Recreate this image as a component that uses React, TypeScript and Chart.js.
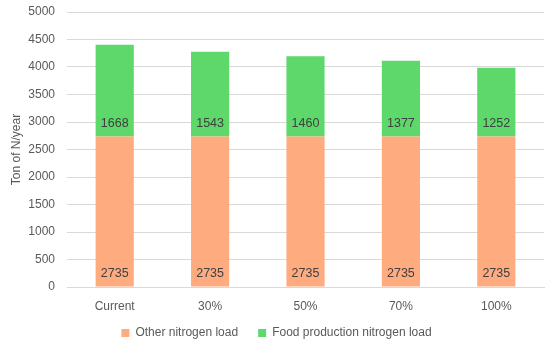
import React, { useEffect, useRef } from "react";
import { Chart, registerables } from "chart.js";

Chart.register(...registerables);

const categories = ["Current", "30%", "50%", "70%", "100%"];
const otherLoad = [2735, 2735, 2735, 2735, 2735];
const foodLoad = [1668, 1543, 1460, 1377, 1252];
const yTicks = [0, 500, 1000, 1500, 2000, 2500, 3000, 3500, 4000, 4500, 5000];

const FONT = "'Liberation Sans', Arial, sans-serif";

const labelPlugin = {
  id: "segLabels",
  afterDatasetsDraw(chart: any) {
    const ctx = chart.ctx;
    ctx.save();
    ctx.font = "12.5px " + FONT;
    ctx.fillStyle = "#404040";
    ctx.textAlign = "center";
    ctx.textBaseline = "middle";
    chart.data.datasets.forEach((ds: any, i: number) => {
      const meta = chart.getDatasetMeta(i);
      meta.data.forEach((el: any, j: number) => {
        ctx.fillText(String(ds.data[j]), el.x, el.base - 13);
      });
    });
    ctx.restore();
  },
};

const legendFit = {
  id: "legendFit",
  afterInit(chart: any) {
    const lg = chart.legend;
    if (!lg) return;
    const orig = lg.fit;
    lg.fit = function () {
      orig.call(this);
      this.height = 26;
    };
  },
  afterLayout(chart: any) {
    const lg = chart.legend;
    if (!lg) return;
    lg.top = 307;
    lg.bottom = 346;
  },
};

export default function App() {
  const ref = useRef<HTMLCanvasElement>(null);
  useEffect(() => {
    const chart = new Chart(ref.current!, {
      type: "bar",
      data: {
        labels: categories,
        datasets: [
          {
            label: "Other nitrogen load",
            data: otherLoad,
            backgroundColor: "#FFAB80",
            barPercentage: 0.4,
            categoryPercentage: 1,
          },
          {
            label: "Food production nitrogen load",
            data: foodLoad,
            backgroundColor: "#5ED76B",
            barPercentage: 0.4,
            categoryPercentage: 1,
          },
        ],
      },
      options: {
        animation: false,
        responsive: false,
        maintainAspectRatio: false,
        layout: { padding: { left: 9, right: 6, top: 12, bottom: 0 } },
        plugins: {
          legend: {
            position: "bottom",
            labels: {
              boxWidth: 8,
              boxHeight: 8,
              color: "#595959",
              font: { family: FONT, size: 12 },
              padding: 20,
            },
          },
          tooltip: { enabled: false },
        },
        scales: {
          x: {
            stacked: true,
            grid: { display: false, drawTicks: false },
            border: { color: "#D9D9D9" },
            afterFit: (s: any) => {
              s.height = 33;
            },
            ticks: {
              color: "#595959",
              font: { family: FONT, size: 12 },
              padding: 12,
            },
          },
          y: {
            stacked: true,
            min: 0,
            max: 5000,
            afterBuildTicks: (s: any) => {
              s.ticks = yTicks.map((v) => ({ value: v }));
            },
            afterFit: (s: any) => {
              s.width = 58;
              s.paddingTop = 0;
              s.paddingBottom = 0;
            },
            grid: { color: "#D9D9D9", drawTicks: false },
            border: { display: false },
            ticks: {
              color: "#595959",
              font: { family: FONT, size: 12 },
              padding: 12,
              callback: (v: any) => String(v),
            },
            title: {
              display: true,
              text: "Ton of N/year",
              color: "#595959",
              font: { family: FONT, size: 12 },
              padding: 0,
            },
          },
        },
      },
      plugins: [legendFit, labelPlugin],
    });
    return () => chart.destroy();
  }, []);
  return (
    <div style={{ position: "fixed", left: 0, top: 0, width: 550, height: 346, background: "#fff" }}>
      <canvas ref={ref} width={550} height={346} />
    </div>
  );
}
